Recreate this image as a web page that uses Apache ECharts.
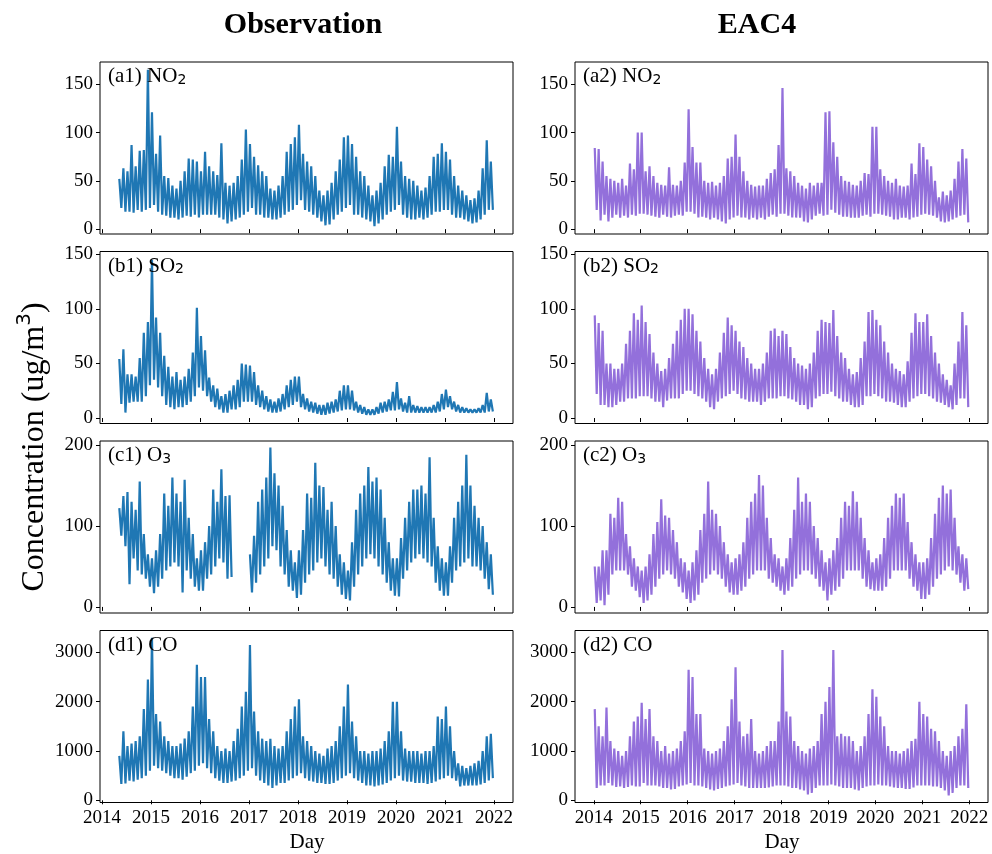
<!DOCTYPE html>
<html><head><meta charset="utf-8">
<script src="https://cdn.jsdelivr.net/npm/echarts@6/dist/echarts.min.js"></script>
<style>html,body{margin:0;padding:0;background:#fff}#c{width:992px;height:854px}</style>
</head><body><div id="c"></div>
<script>
// ---------- DATA (monthly high / low envelope) ----------
const yearTicks = [2014, 2015, 2016, 2017, 2018, 2019, 2020, 2021, 2022];
const yTicksA = [0, 50, 100, 150];
const yTicksB = [0, 50, 100, 150];
const yTicksC = [0, 100, 200];
const yTicksD = [0, 1000, 2000, 3000];
const obsStartYear = 2014, obsStartMonth = 4;   // May 2014
const modStartYear = 2014, modStartMonth = 0;   // Jan 2014

// Observation NO2 (May 2014 - Dec 2021)
const obsNO2Hi = [52,63,60,87,65,81,82,165,
  121,78,97,55,53,45,42,50,60,73,72,70,
  60,80,65,60,56,89,48,45,48,55,72,103,
  88,75,66,60,55,42,40,45,55,80,88,95,
  108,78,70,65,55,40,35,40,48,60,72,95,
  97,88,75,60,55,45,35,40,48,65,77,75,
  106,70,55,52,50,45,40,43,55,75,78,89,
  80,72,55,45,40,35,30,32,40,63,92,70];
const obsNO2Lo = [22,18,18,17,20,18,20,22,
  25,18,15,14,12,12,10,12,14,13,15,12,
  15,15,15,15,12,10,6,8,10,12,15,18,
  22,15,15,12,12,10,10,12,15,18,20,25,
  30,20,18,15,12,8,4,5,10,15,18,22,
  25,15,15,12,10,8,3,6,10,15,18,20,
  25,15,12,10,10,12,10,12,15,18,18,20,
  20,15,12,12,10,8,6,7,10,15,20,20];
// EAC4 NO2 (Jan 2014 - Dec 2021)
const modNO2Hi = [84,83,70,55,52,50,48,52,45,68,62,100,
  100,60,65,55,48,46,45,64,46,45,50,69,
  124,85,69,69,50,48,49,45,48,55,73,75,
  98,75,60,50,46,44,45,45,52,58,62,87,
  146,63,60,55,48,45,42,48,45,48,48,121,
  122,90,75,55,50,49,46,45,50,58,57,106,
  106,62,55,50,48,52,45,44,45,68,57,89,
  85,72,65,50,33,39,35,40,52,70,83,73];
const modNO2Lo = [20,9,15,8,12,15,12,14,12,15,14,16,
  16,15,14,13,12,15,13,12,14,15,14,18,
  18,16,12,13,12,10,12,10,8,6,10,12,
  14,12,12,10,12,10,12,10,13,15,13,16,
  16,14,12,12,12,8,7,10,14,16,14,15,
  20,17,15,13,13,12,12,12,14,15,13,16,
  16,15,14,13,10,10,12,12,10,12,13,15,
  16,15,14,12,8,7,8,10,12,14,15,7];

// Observation SO2
const obsSO2Hi = [54,63,40,40,38,55,78,88,
  145,92,78,57,47,38,42,35,38,45,60,101,
  75,62,37,30,27,20,22,25,30,35,50,49,
  48,42,30,25,20,17,15,18,22,30,35,38,
  38,22,18,15,14,12,12,14,15,17,25,30,
  30,25,15,12,10,8,8,10,14,15,17,24,
  33,18,14,20,12,11,10,10,10,12,15,22,
  26,20,15,12,10,9,8,8,9,12,23,17];
const obsSO2Lo = [13,5,14,15,15,15,20,30,
  35,28,20,12,10,8,10,10,12,15,20,28,
  25,20,15,10,8,5,5,8,8,10,15,15,
  15,12,10,8,6,5,5,6,8,10,12,15,
  10,8,6,5,4,3,3,4,5,6,7,8,
  8,7,5,4,3,3,3,4,5,6,7,7,
  8,6,5,5,5,5,5,5,5,5,6,8,
  10,8,6,5,5,5,5,5,5,5,6,6];
// EAC4 SO2
const modSO2Hi = [94,87,80,50,50,45,45,50,68,80,96,90,
  103,88,77,60,50,43,45,55,68,80,90,100,
  100,95,80,70,55,45,40,45,60,78,92,85,
  80,70,65,55,50,45,45,50,60,80,82,75,
  80,77,65,55,50,48,45,50,60,80,90,88,
  87,99,75,60,55,45,40,42,55,70,97,99,
  90,85,70,60,50,45,43,40,52,78,96,88,
  88,95,75,60,50,40,35,30,50,70,97,85];
const modSO2Lo = [22,12,12,10,10,12,15,15,18,18,18,20,
  20,20,18,15,15,10,16,18,18,18,22,25,
  25,22,20,18,15,10,8,15,18,20,22,25,
  22,18,17,15,15,15,12,15,18,18,18,20,
  20,18,17,15,12,12,8,10,18,20,22,22,
  24,20,18,15,15,12,10,10,12,20,20,22,
  20,18,15,15,14,12,10,10,15,18,20,22,
  22,20,18,15,14,12,10,8,12,18,18,10];

// Observation O3 (gap Sep-Dec 2016)
const obsO3Hi = [122,137,142,130,120,155,90,65,
  60,70,90,140,125,160,140,130,157,110,90,60,
  70,80,100,145,130,170,137,138,null,null,null,null,
  65,88,130,145,160,197,165,150,125,95,70,55,
  70,95,140,135,178,150,148,120,130,100,65,55,
  45,80,120,140,150,173,155,160,145,110,80,60,
  60,85,110,130,145,145,150,140,185,110,75,60,
  55,75,110,130,150,188,150,125,110,100,80,65];
const obsO3Lo = [88,75,28,60,45,40,35,25,
  17,25,35,45,50,55,50,18,45,35,25,20,
  20,35,40,50,60,55,35,37,null,null,null,null,
  18,30,40,50,60,75,70,50,40,25,20,11,
  15,30,40,45,55,60,50,40,35,25,15,10,
  8,25,40,50,60,65,60,50,40,30,20,14,
  13,35,45,55,60,65,60,55,50,30,20,14,
  14,30,45,50,55,60,50,50,45,35,22,15];
// EAC4 O3
const modO3Hi = [50,50,70,70,115,110,135,130,90,75,60,50,
  45,50,65,90,105,133,113,110,95,80,60,55,
  45,55,70,95,115,155,120,115,100,80,65,55,
  60,65,80,110,130,140,163,150,110,85,65,60,
  50,60,85,120,160,130,140,130,100,85,70,55,
  60,70,85,110,130,125,143,130,110,85,70,55,
  60,65,85,110,125,140,135,140,105,80,65,55,
  55,60,85,115,135,150,140,145,110,75,65,60];
const modO3Lo = [5,8,2,15,40,45,45,45,40,25,20,12,
  5,8,15,25,35,40,45,40,35,25,18,10,
  5,8,15,30,35,40,45,40,35,25,18,15,
  15,20,25,35,40,45,45,45,35,30,25,20,
  15,20,25,35,40,45,45,40,35,25,20,8,
  15,20,25,35,45,45,45,45,35,25,22,20,
  20,20,25,35,45,45,45,45,35,25,20,10,
  10,15,25,35,40,45,50,45,40,30,20,22];

// Observation CO
const obsCOHi = [900,1400,1100,1150,1200,1300,1850,2450,
  3300,1750,1600,1300,1200,1100,1100,1150,1250,1400,1900,2750,
  2500,2500,1650,1400,1100,1000,1050,1000,1200,1450,1900,2200,
  3150,1800,1400,1250,1200,1250,1100,1050,1100,1400,1650,1900,
  2050,1300,1200,1100,1000,950,900,1050,1100,1200,1500,1900,
  2350,1600,1300,1000,1000,950,1000,1000,1050,1200,1400,2000,
  2000,1400,1050,1000,1000,1000,950,1000,1000,1100,1700,1650,
  1900,1500,1000,750,700,650,700,750,800,1000,1300,1350];
const obsCOLo = [330,340,400,380,420,450,500,600,
  700,650,600,550,500,450,450,420,480,550,600,700,
  750,650,550,450,400,350,350,380,400,450,500,600,
  650,500,400,350,300,250,300,350,350,400,450,500,
  550,450,400,380,350,350,330,330,350,400,450,500,
  550,450,400,350,300,300,280,300,320,350,400,450,
  500,400,380,380,350,350,350,330,350,380,420,450,
  500,450,400,280,300,300,300,300,320,350,400,450];
// EAC4 CO
const modCOHi = [1850,1500,1300,1880,1200,1050,1000,900,1000,1300,1600,1700,
  1980,1650,1850,1300,1200,1000,1100,950,1000,1050,1200,1400,
  2650,2500,1750,1750,1050,1000,950,1000,1050,1200,1500,2050,
  2700,1600,1300,1350,1650,1000,950,1000,1100,1200,1200,1600,
  3050,1800,1700,1200,1100,1000,950,1050,1100,1200,1750,2000,
  2300,3050,1300,1350,1300,1300,1200,1000,1100,1300,1750,2250,
  2100,1700,1500,1100,1000,1000,950,1000,1050,1200,1250,2000,
  1750,1700,1450,1400,1200,1000,900,1000,1100,1300,1450,1950];
const modCOLo = [250,300,300,350,300,270,280,250,270,300,280,280,
  350,300,300,300,280,250,250,220,230,280,300,320,
  350,300,300,280,250,220,200,230,250,280,300,320,
  350,300,280,250,250,250,250,250,260,280,300,300,
  300,280,250,250,220,200,120,150,250,300,300,300,
  320,300,280,250,250,250,220,200,250,280,300,300,
  320,300,300,280,260,250,250,230,230,260,300,300,
  300,300,280,280,250,200,100,150,250,300,300,250];

// ---------- BUILD ----------
function monthSeries(y0, m0, hi, lo) {
  const out = [];
  for (let i = 0; i < hi.length; i++) {
    const base = y0 + (m0 + i) / 12;
    out.push([base + 0.25 / 12, hi[i] == null ? '-' : hi[i]]);
    out.push([base + 0.75 / 12, lo[i] == null ? '-' : lo[i]]);
  }
  return out;
}
const OBS_COLOR = '#1f77b4', MOD_COLOR = '#9370db';
const SERIF = 'Liberation Serif';
const rows = [
  { top: 62, yMin: -5, yMax: 173, ticks: yTicksA, name: 'NO', sub: '2', tag: 'a',
    obs: [obsNO2Hi, obsNO2Lo], mod: [modNO2Hi, modNO2Lo] },
  { top: 251.5, yMin: -5, yMax: 152.5, ticks: yTicksB, name: 'SO', sub: '2', tag: 'b',
    obs: [obsSO2Hi, obsSO2Lo], mod: [modSO2Hi, modSO2Lo] },
  { top: 441, yMin: -7.5, yMax: 205, ticks: yTicksC, name: 'O', sub: '3', tag: 'c',
    obs: [obsO3Hi, obsO3Lo], mod: [modO3Hi, modO3Lo] },
  { top: 630.5, yMin: -45, yMax: 3445, ticks: yTicksD, name: 'CO', sub: '', tag: 'd',
    obs: [obsCOHi, obsCOLo], mod: [modCOHi, modCOLo] }
];
const cols = [
  { left: 100, xMin: 2013.96, xMax: 2022.39, color: OBS_COLOR, key: 'obs', y0: obsStartYear, m0: obsStartMonth, num: '1' },
  { left: 575, xMin: 2013.6, xMax: 2022.4, color: MOD_COLOR, key: 'mod', y0: modStartYear, m0: modStartMonth, num: '2' }
];
const W = 413, H = 172;
const grid = [], xAxis = [], yAxis = [], series = [], graphic = [];
let gi = 0;
rows.forEach((r, ri) => {
  cols.forEach((c) => {
    grid.push({ left: c.left, top: r.top, width: W, height: H, show: true,
      borderColor: '#000', borderWidth: 1, backgroundColor: 'transparent' });
    const bottom = ri === rows.length - 1;
    xAxis.push({ type: 'value', gridIndex: gi, min: c.xMin, max: c.xMax,
      axisLine: { show: false }, splitLine: { show: false },
      axisTick: { show: true, inside: false, length: 4, customValues: yearTicks,
        lineStyle: { color: '#000', width: 1 } },
      axisLabel: { show: bottom, customValues: yearTicks, formatter: v => String(v),
        fontFamily: SERIF, fontSize: 19, color: '#000', margin: 6 } });
    yAxis.push({ type: 'value', gridIndex: gi, min: r.yMin, max: r.yMax,
      axisLine: { show: false }, splitLine: { show: false },
      axisTick: { show: true, inside: false, length: 4, customValues: r.ticks,
        lineStyle: { color: '#000', width: 1 } },
      axisLabel: { show: true, customValues: r.ticks, formatter: v => String(v),
        fontFamily: SERIF, fontSize: 19, color: '#000', margin: 7 } });
    const d = r[c.key];
    series.push({ type: 'line', xAxisIndex: gi, yAxisIndex: gi, showSymbol: false,
      symbol: 'none', connectNulls: false, animation: false,
      lineStyle: { color: c.color, width: 2.2, join: 'bevel' }, itemStyle: { color: c.color },
      data: monthSeries(c.y0, c.m0, d[0], d[1]) });
    const label = r.sub ? '{m|(' + r.tag + c.num + ') ' + r.name + '}{s|' + r.sub + '}'
                        : '{m|(' + r.tag + c.num + ') ' + r.name + '}';
    graphic.push({ type: 'text', left: c.left + 8, top: r.top + 4, z: 100,
      style: { text: label, fill: '#000',
        rich: { m: { fontFamily: SERIF, fontSize: 21, lineHeight: 24, verticalAlign: 'bottom' },
                s: { fontFamily: 'DejaVu Sans', fontSize: 14, lineHeight: 15, verticalAlign: 'bottom' } } } });
    gi++;
  });
});
graphic.push({ type: 'text', x: 303, y: 25, z: 100,
  style: { text: 'Observation', font: 'bold 30px "Liberation Serif"', fill: '#000',
    textAlign: 'center', textVerticalAlign: 'middle' } });
graphic.push({ type: 'text', x: 757, y: 25, z: 100,
  style: { text: 'EAC4', font: 'bold 30px "Liberation Serif"', fill: '#000',
    textAlign: 'center', textVerticalAlign: 'middle' } });
graphic.push({ type: 'text', x: 307, y: 842, z: 100,
  style: { text: 'Day', font: '21px "Liberation Serif"', fill: '#000',
    textAlign: 'center', textVerticalAlign: 'middle' } });
graphic.push({ type: 'text', x: 782, y: 842, z: 100,
  style: { text: 'Day', font: '21px "Liberation Serif"', fill: '#000',
    textAlign: 'center', textVerticalAlign: 'middle' } });
graphic.push({ type: 'text', x: 33, y: 447, rotation: Math.PI / 2, z: 100,
  style: { text: '{m|Concentration (ug/m}{p|3}{m|)}', fill: '#000',
    textAlign: 'center', textVerticalAlign: 'middle',
    rich: { m: { fontFamily: SERIF, fontSize: 32, lineHeight: 36, verticalAlign: 'bottom' },
            p: { fontFamily: 'DejaVu Sans', fontSize: 20, lineHeight: 36, verticalAlign: 'top' } } } });

const chart = echarts.init(document.getElementById('c'), null, { renderer: 'canvas' });
chart.setOption({ animation: false, backgroundColor: '#fff', grid, xAxis, yAxis, series, graphic });
</script>
</body></html>
